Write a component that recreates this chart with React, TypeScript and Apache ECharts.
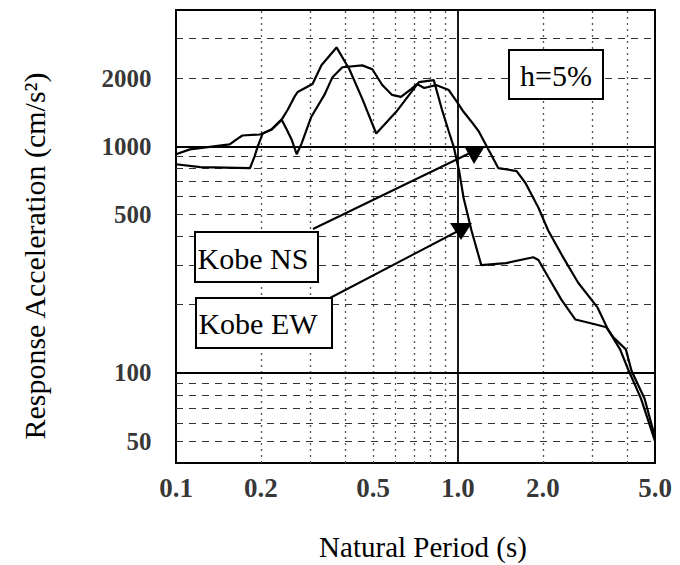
import React, { useEffect, useRef } from 'react';
import * as echarts from 'echarts';

// Kobe NS spectrum (period s, response acceleration cm/s^2)
const nsPeriod = [0.100, 0.112, 0.155, 0.166, 0.172, 0.198, 0.203, 0.218, 0.237, 0.247, 0.257, 0.268, 0.279, 0.302, 0.336, 0.359, 0.389, 0.458, 0.497, 0.539, 0.584, 0.628, 0.682, 0.716, 0.759, 0.836, 0.928, 0.992, 1.047, 1.117, 1.186, 1.255, 1.39, 1.615, 1.736, 1.93, 2.09, 2.37, 2.67, 3.13, 3.40, 3.76, 4.01, 4.46, 5.0];
const nsAccel = [923, 970, 1020, 1084, 1117, 1128, 1140, 1186, 1312, 1186, 1073, 923, 1031, 1352, 1687, 2021, 2235, 2278, 2190, 1866, 1687, 1653, 1791, 1884, 1810, 1865, 1773, 1572, 1421, 1285, 1163, 1020, 802, 778, 689, 536, 425, 321, 250, 194, 156, 127, 104, 77, 50];

// Kobe EW spectrum
const ewPeriod = [0.100, 0.122, 0.183, 0.190, 0.195, 0.203, 0.218, 0.237, 0.249, 0.263, 0.270, 0.305, 0.328, 0.371, 0.412, 0.458, 0.513, 0.604, 0.727, 0.821, 0.876, 0.928, 0.965, 1.01, 1.047, 1.117, 1.21, 1.48, 1.85, 1.93, 2.09, 2.33, 2.61, 3.06, 3.36, 3.55, 3.94, 4.13, 4.59, 5.0];
const ewAccel = [834, 810, 801, 904, 1000, 1140, 1186, 1312, 1451, 1653, 1738, 1885, 2282, 2734, 2190, 1620, 1140, 1421, 1923, 1961, 1465, 1163, 1000, 778, 593, 425, 299, 305, 324, 315, 265, 210, 172, 164, 159, 144, 127, 102, 77, 52];

const xTickValues = [0.1, 0.2, 0.5, 1.0, 2.0, 5.0];
const xTickLabels = ['0.1', '0.2', '0.5', '1.0', '2.0', '5.0'];
const yTickValues = [2000, 1000, 500, 100, 50];
const yTickLabels = ['2000', '1000', '500', '100', '50'];

const xMinorGrid = [0.2, 0.3, 0.4, 0.5, 0.6, 0.7, 0.8, 0.9, 2, 3, 4];
const xMajorGrid = [1];
const yMinorGrid = [50, 60, 70, 80, 90, 200, 300, 400, 500, 600, 700, 800, 900, 2000, 3000];
const yMajorGrid = [100, 1000];

const xMin = 0.1;
const xMax = 5;
const yMin = 40;
const yMax = 4000;

const FONT = '"Liberation Serif", "Times New Roman", serif';

export default function App() {
  const ref = useRef<HTMLDivElement>(null);

  useEffect(() => {
    const chart = echarts.init(ref.current as HTMLDivElement, null, { renderer: 'svg' });

    const gridLines: any[] = [
      ...yMinorGrid.map((v) => ({ yAxis: v, lineStyle: { type: [7, 6], color: '#333', width: 1.2 } })),
      ...xMinorGrid.map((v) => ({ xAxis: v, lineStyle: { type: [2, 4], color: '#555', width: 1.3 } })),
      ...yMajorGrid.map((v) => ({ yAxis: v, lineStyle: { type: 'solid', color: '#000', width: 1.8 } })),
      ...xMajorGrid.map((v) => ({ xAxis: v, lineStyle: { type: 'solid', color: '#000', width: 1.8 } })),
    ];

    const option: any = {
      animation: false,
      backgroundColor: '#fff',
      grid: {
        left: 176,
        right: 25,
        top: 10,
        bottom: 102,
        show: true,
        borderColor: '#000',
        borderWidth: 2,
        backgroundColor: 'transparent',
      },
      xAxis: {
        type: 'log',
        min: xMin,
        max: xMax,
        logBase: 10,
        axisLabel: { show: false },
        axisTick: { show: false },
        axisLine: { show: false },
        splitLine: { show: false },
      },
      yAxis: {
        type: 'log',
        min: yMin,
        max: yMax,
        logBase: 10,
        axisLabel: { show: false },
        axisTick: { show: false },
        axisLine: { show: false },
        splitLine: { show: false },
      },
      series: [
        {
          type: 'scatter',
          name: 'yTicks',
          z: 1,
          silent: true,
          symbolSize: 1,
          itemStyle: { color: 'rgba(0,0,0,0)' },
          data: yTickValues.map((v) => [xMin, v]),
          label: {
            show: true,
            position: 'left',
            distance: 24,
            formatter: (p: any) => yTickLabels[p.dataIndex],
            color: '#000',
            fontSize: 25,
            fontWeight: 'bold',
            fontFamily: FONT,
          },
          markLine: {
            silent: true,
            symbol: ['none', 'none'],
            label: { show: false },
            emphasis: { disabled: true },
            data: gridLines,
          },
        },
        {
          type: 'scatter',
          name: 'xTicks',
          z: 1,
          silent: true,
          symbolSize: 1,
          itemStyle: { color: 'rgba(0,0,0,0)' },
          data: xTickValues.map((v) => [v, yMin]),
          label: {
            show: true,
            position: 'bottom',
            distance: 11,
            formatter: (p: any) => xTickLabels[p.dataIndex],
            color: '#000',
            fontSize: 27,
            fontWeight: 'bold',
            fontFamily: FONT,
          },
        },
        {
          type: 'line',
          name: 'Kobe NS',
          z: 5,
          silent: true,
          symbol: 'none',
          lineStyle: { color: '#000', width: 2.2 },
          data: nsPeriod.map((t, i) => [t, nsAccel[i]]),
        },
        {
          type: 'line',
          name: 'Kobe EW',
          z: 5,
          silent: true,
          symbol: 'none',
          lineStyle: { color: '#000', width: 2.2 },
          data: ewPeriod.map((t, i) => [t, ewAccel[i]]),
        },
      ],
      graphic: [
        {
          type: 'text',
          x: 34,
          y: 256,
          rotation: Math.PI / 2,
          style: {
            text: 'Response Acceleration (cm/s²)',
            font: '30px ' + FONT,
            fill: '#000',
            textAlign: 'center',
            textVerticalAlign: 'middle',
          },
        },
        {
          type: 'text',
          x: 423,
          y: 547,
          style: {
            text: 'Natural Period (s)',
            font: '29px ' + FONT,
            fill: '#000',
            textAlign: 'center',
            textVerticalAlign: 'middle',
          },
        },
        // h=5% box
        {
          type: 'rect',
          z: 100,
          shape: { x: 509, y: 50, width: 94, height: 49 },
          style: { fill: '#fff', stroke: '#000', lineWidth: 2 },
        },
        {
          type: 'text',
          z: 101,
          x: 556,
          y: 75,
          style: {
            text: 'h=5%',
            font: '30px ' + FONT,
            fill: '#000',
            textAlign: 'center',
            textVerticalAlign: 'middle',
          },
        },
        // arrows
        {
          type: 'line',
          z: 100,
          shape: { x1: 313, y1: 229, x2: 470, y2: 153 },
          style: { stroke: '#000', lineWidth: 2 },
        },
        {
          type: 'polygon',
          z: 100,
          shape: { points: [[464, 146], [485, 146], [474, 164]] },
          style: { fill: '#000' },
        },
        {
          type: 'line',
          z: 100,
          shape: { x1: 330, y1: 298, x2: 460, y2: 230 },
          style: { stroke: '#000', lineWidth: 2 },
        },
        {
          type: 'polygon',
          z: 100,
          shape: { points: [[450, 223], [472, 223], [461, 240]] },
          style: { fill: '#000' },
        },
        // Kobe NS box
        {
          type: 'rect',
          z: 100,
          shape: { x: 195, y: 232, width: 123, height: 50 },
          style: { fill: '#fff', stroke: '#000', lineWidth: 2 },
        },
        {
          type: 'text',
          z: 101,
          x: 253,
          y: 258,
          style: {
            text: 'Kobe NS',
            font: '30px ' + FONT,
            fill: '#000',
            textAlign: 'center',
            textVerticalAlign: 'middle',
          },
        },
        // Kobe EW box
        {
          type: 'rect',
          z: 100,
          shape: { x: 196, y: 298, width: 136, height: 50 },
          style: { fill: '#fff', stroke: '#000', lineWidth: 2 },
        },
        {
          type: 'text',
          z: 101,
          x: 258,
          y: 323,
          style: {
            text: 'Kobe EW',
            font: '30px ' + FONT,
            fill: '#000',
            textAlign: 'center',
            textVerticalAlign: 'middle',
          },
        },
      ],
    };

    chart.setOption(option);
    return () => {
      chart.dispose();
    };
  }, []);

  return (
    <div
      ref={ref}
      style={{ position: 'absolute', left: 0, top: 0, width: 680, height: 565, background: '#fff' }}
    />
  );
}
